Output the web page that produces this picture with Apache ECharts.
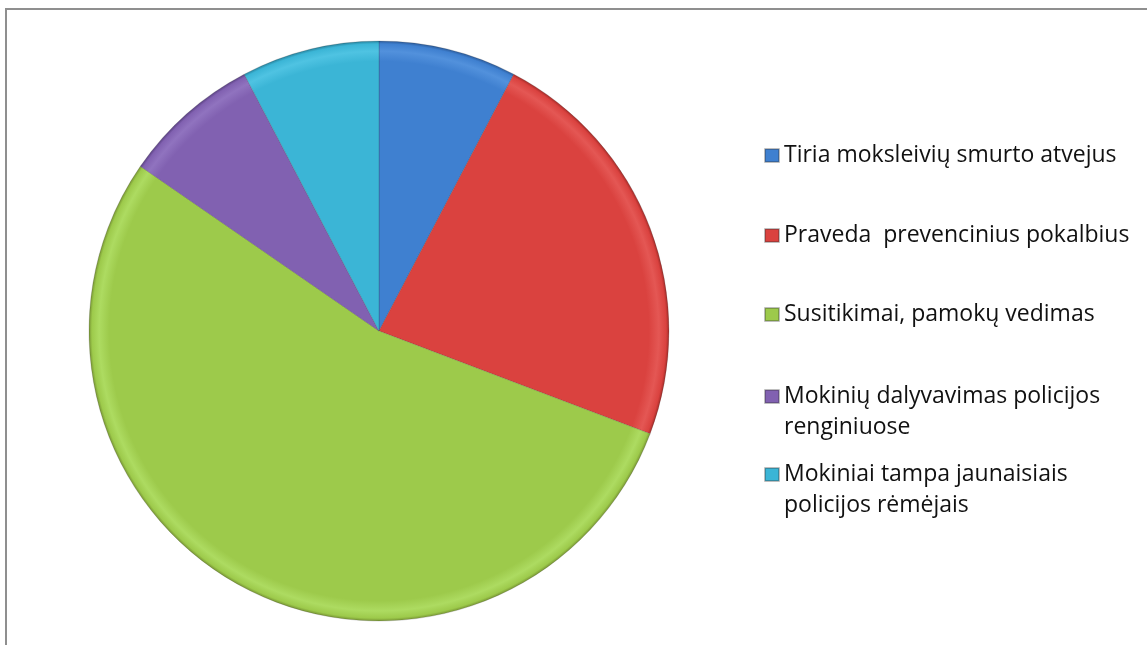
<!DOCTYPE html>
<html>
<head>
<meta charset="utf-8">
<style>
  html, body { margin: 0; padding: 0; background: #fff; }
  #main { width: 1147px; height: 645px; }
</style>
<script src="https://cdn.jsdelivr.net/npm/echarts@6/dist/echarts.min.js"></script>
</head>
<body>
<div id="main"></div>
<script>
// chart data
var categories = [
  'Tiria moksleivių smurto atvejus',
  'Praveda  prevencinius pokalbius',
  'Susitikimai, pamokų vedimas',
  'Mokinių dalyvavimas policijos renginiuose',
  'Mokiniai tampa jaunaisiais policijos rėmėjais'
];
var values = [1, 3, 7, 1, 1];

var baseColors = ['#3f80d0', '#da423f', '#9dca4b', '#8161b1', '#3bb5d6'];
var rimColors  = ['#2c5c9c', '#a42c29', '#789634', '#5b4284', '#28849f'];
var lightColors = ['#5291dc', '#e45754', '#addb61', '#9073bf', '#4fc3e2'];

var cx = 379, cy = 331, R = 290;

var dom = document.getElementById('main');
var myChart = echarts.init(dom);

function sliceFill(i) {
  return {
    type: 'radial', x: cx, y: cy, r: R, global: true,
    colorStops: [
      { offset: 0, color: baseColors[i] },
      { offset: 0.93, color: baseColors[i] },
      { offset: 0.965, color: lightColors[i] },
      { offset: 0.99, color: baseColors[i] },
      { offset: 1, color: rimColors[i] }
    ]
  };
}

var pieData = categories.map(function (c, i) {
  return { name: c, value: values[i], itemStyle: { color: sliceFill(i) } };
});

// one legend block per entry so the spacing follows the original
var iconCenters = [156, 236, 315, 396, 474];
var twoLine = [false, false, false, true, true];
var legends = categories.map(function (c, i) {
  return {
    data: [{ name: c, itemStyle: { color: baseColors[i] } }],
    orient: 'vertical',
    left: 764,
    top: iconCenters[i] - (twoLine[i] ? 46 : 16),
    padding: 0,
    itemWidth: 14,
    itemHeight: 13,
    itemGap: 0,
    icon: 'rect',
    selectedMode: false,
    // blank first line keeps the marker beside the first text line
    formatter: twoLine[i] ? function (n) { return '\n' + n; } : '{name}',
    textStyle: {
      fontFamily: 'Open Sans',
      fontSize: 23,
      color: '#111',
      lineHeight: 31,
      width: 352,
      overflow: 'break'
    }
  };
});

var option = {
  backgroundColor: '#ffffff',
  animation: false,
  graphic: [{
    type: 'rect',
    shape: { x: 6, y: 9, width: 1160, height: 700 },
    style: { fill: 'none', stroke: '#8f8f8f', lineWidth: 2 },
    silent: true
  }],
  legend: legends,
  series: [{
    type: 'pie',
    center: [cx, cy],
    radius: R,
    startAngle: 90,
    clockwise: true,
    label: { show: false },
    labelLine: { show: false },
    emphasis: { disabled: true },
    itemStyle: { borderColor: 'rgba(40,40,40,0.3)', borderWidth: 0.6 },
    data: pieData
  }]
};

if (option && typeof option === 'object') {
  myChart.setOption(option);
}

window.onresize = function () {
  myChart.resize();
};
</script>
</body>
</html>
